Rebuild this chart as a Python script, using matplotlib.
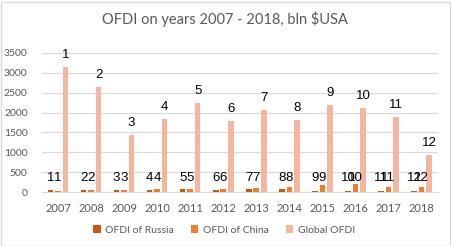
import matplotlib
matplotlib.use("Agg")
import matplotlib.pyplot as plt
import numpy as np
from matplotlib.patches import Rectangle

years = ["2007", "2008", "2009", "2010", "2011", "2012", "2013", "2014", "2015", "2016", "2017", "2018"]
russia = [45, 56, 43, 53, 67, 49, 87, 64, 27, 27, 37, 36]
china = [27, 56, 57, 69, 75, 88, 95, 128, 180, 210, 138, 122]
global_ofdi = [3150, 2650, 1430, 1830, 2245, 1790, 2065, 1810, 2190, 2115, 1890, 930]
labels = [str(i) for i in range(1, 13)]

plt.rcParams['font.family'] = ['Lato', 'DejaVu Sans']

W, H = 452, 246
fig = plt.figure(figsize=(W / 100, H / 100), dpi=100)
fig.patch.set_facecolor('white')
fig.patches.append(Rectangle((0.5 / W, 0.5 / H), 1 - 2.5 / W, 1 - 2.0 / H, transform=fig.transFigure,
                             fill=False, edgecolor='#d9d9d9', linewidth=1.0))

left, right, bottom, top = 41.5, 438, 192, 53
ax = fig.add_axes([left / W, 1 - bottom / H, (right - left) / W, (bottom - top) / H])

x = np.arange(len(years))
off = 0.227
bw = 0.17
c_r, c_c, c_g = '#C55A11', '#ED7D31', '#F4B6A0'
ax.bar(x - off, russia, bw, color=c_r, label='OFDI of Russia', zorder=3)
ax.bar(x, china, bw, color=c_c, label='OFDI of China', zorder=3)
ax.bar(x + off, global_ofdi, bw, color=c_g, label='Global OFDI', zorder=3)

lab_font = dict(fontsize=9.5, color='black', zorder=4, family=['Liberation Sans', 'DejaVu Sans'])
for i in range(len(years)):
    ax.annotate(labels[i], (x[i] - off, 0), xytext=(0, 11), textcoords='offset pixels',
                ha='center', va='baseline', **lab_font)
    ax.annotate(labels[i], (x[i], 0), xytext=(0, 11), textcoords='offset pixels',
                ha='center', va='baseline', **lab_font)
    ax.annotate(labels[i], (x[i] + off, global_ofdi[i]), xytext=(0, 9), textcoords='offset pixels',
                ha='center', va='baseline', **lab_font)

ax.set_xlim(-0.5, len(years) - 0.5)
ax.set_ylim(0, 3500)
ax.set_yticks(np.arange(0, 3501, 500))
ax.set_xticks(x)
ax.set_xticklabels(years)
ax.tick_params(axis='both', length=0, labelsize=7.5, colors='#595959')
ax.tick_params(axis='x', pad=8, labelsize=8)
ax.tick_params(axis='y', pad=10)
ax.grid(axis='y', color='#d9d9d9', linewidth=0.9, zorder=0)
for s in ['top', 'right', 'left']:
    ax.spines[s].set_visible(False)
ax.spines['bottom'].set_color('#d9d9d9')

fig.text(225 / W, 1 - 19 / H, 'OFDI on years 2007 - 2018, bln $USA', ha='center', va='center',
         fontsize=10.5, color='#595959')

fig.legend(loc='center', bbox_to_anchor=(224 / W, 1 - 230 / H), ncol=3, frameon=False,
           fontsize=7.5, handlelength=0.7, handleheight=0.7, handletextpad=0.4, columnspacing=1.7,
           labelcolor='#595959')

fig.savefig('out.png', dpi=100, facecolor='white')
